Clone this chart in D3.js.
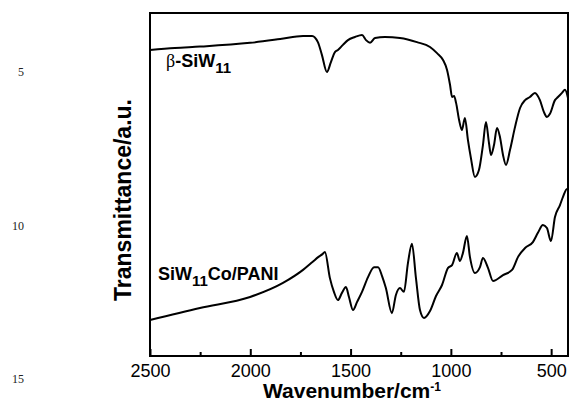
<!DOCTYPE html>
<html>
<head>
<meta charset="utf-8">
<script src="https://cdn.jsdelivr.net/npm/d3@7"></script>
<style>
  body { margin: 0; background: #fff; }
  svg { display: block; }
</style>
</head>
<body>
<div id="chart-area"></div>
<script>
// DATA (wavenumber in cm-1, transmittance in a.u.)
const majorTicks = [2500, 2000, 1500, 1000, 500]
const minorTicks = [2250, 1750, 1250, 750]

const siw11Wave = [2500, 2376, 2251, 2001, 1851, 1737, 1692, 1663, 1643, 1618, 1598, 1578, 1563, 1538, 1513,
  1478, 1443, 1423, 1403, 1378, 1329, 1254, 1169, 1104, 1069, 1039, 1019, 1004, 994, 984, 974, 959, 945,
  930, 915, 900, 880, 860, 840, 825, 810, 800, 785, 770, 755, 740, 725, 705, 680, 655, 630, 606, 581,
  556, 536, 521, 506, 481, 466, 446, 431, 416]
const siw11T = [89.2, 89.8, 90.2, 91.3, 92.4, 93.3, 93.3, 91.5, 87.8, 82.8, 85.7, 88.6, 89.2, 90.7, 92.1,
  93.0, 93.6, 92.1, 91.3, 92.7, 93.0, 92.7, 91.5, 90.1, 88.3, 86.3, 83.4, 79.0, 75.5, 75.8, 73.8, 68.8, 65.9,
  69.4, 63.0, 57.7, 52.2, 54.2, 61.5, 68.2, 62.1, 58.6, 61.5, 66.5, 63.8, 58.6, 55.7, 60.1, 66.8, 72.3, 74.6, 75.5, 76.7,
  74.6, 71.1, 69.7, 70.6, 74.6, 75.5, 76.7, 77.6, 75.2]

const paniWave = [2500, 2251, 2001, 1837, 1737, 1690, 1660, 1640, 1628, 1603, 1583, 1563, 1543, 1523, 1508,
  1488, 1468, 1443, 1413, 1383, 1363, 1343, 1324, 1294, 1274, 1254, 1234, 1214, 1194, 1174, 1154, 1134,
  1104, 1074, 1044, 1014, 994, 970, 955, 940, 920, 905, 880, 855, 840, 815, 790, 740, 695, 665, 630,
  591, 566, 541, 521, 501, 481, 456, 441, 421, 416]
const paniT = [10.5, 14.0, 17.2, 21.3, 25.1, 27.4, 28.9, 29.7, 30.3, 22.7, 18.7, 16.3, 18.4, 20.1, 17.2,
  13.4, 15.7, 18.7, 23.0, 25.9, 25.9, 23.3, 19.8, 12.5, 17.8, 19.8, 18.7, 27.1, 32.7, 22.7, 13.4, 11.1,
  13.1, 17.5, 20.7, 25.7, 26.5, 30.0, 27.7, 30.0, 35.0, 28.9, 24.2, 25.9, 28.6, 25.7, 21.9, 23.6, 25.1, 28.9, 31.5,
  33.2, 35.9, 38.2, 37.3, 33.5, 40.5, 44.0, 46.4, 48.7, 48.7]

// CHART AREA
const W = 573, H = 404
const plot = { left: 150, right: 568, top: 13, bottom: 356 }

const svg = d3.select("#chart-area")
  .append("svg")
    .attr("width", W)
    .attr("height", H)
    .style("font-family", "Arial, 'Liberation Sans', sans-serif")

const xScale = d3.scaleLinear()
  .domain([2500, 416])
  .range([plot.left, plot.right])

const yScale = d3.scaleLinear()
  .domain([0, 100])
  .range([plot.bottom, plot.top])

// page line numbers
svg.selectAll(".lineno")
  .data([["5", 76], ["10", 230], ["15", 383]])
  .enter().append("text")
    .attr("x", 24)
    .attr("y", d => d[1])
    .attr("text-anchor", "end")
    .attr("font-family", "'Liberation Serif', 'Times New Roman', serif")
    .attr("font-size", "12px")
    .attr("fill", "#222")
    .text(d => d[0])

// curves
const line = d3.line()
  .x(d => xScale(d[0]))
  .y(d => yScale(d[1]))
  .curve(d3.curveMonotoneX)

const series = [d3.zip(siw11Wave, siw11T), d3.zip(paniWave, paniT)]
svg.selectAll(".trace")
  .data(series)
  .enter().append("path")
    .attr("class", "trace")
    .attr("d", line)
    .attr("fill", "none")
    .attr("stroke", "#000")
    .attr("stroke-width", 2)
    .attr("stroke-linejoin", "round")

// axes (ticks inward)
const xMajor = d3.axisBottom(xScale)
  .tickValues(majorTicks)
  .tickSizeInner(-7)
  .tickSizeOuter(0)
  .tickPadding(8)
  .tickFormat(d3.format("d"))
const gx = svg.append("g")
  .attr("transform", "translate(0," + plot.bottom + ")")
  .call(xMajor)
gx.select(".domain").remove()
gx.selectAll("line").attr("stroke-width", 2)
gx.selectAll("text").attr("font-size", "18px").attr("fill", "#000")
  .attr("font-family", "Arial, 'Liberation Sans', sans-serif")

const xMinor = d3.axisBottom(xScale)
  .tickValues(minorTicks)
  .tickSizeInner(-4)
  .tickSizeOuter(0)
  .tickFormat("")
const gm = svg.append("g")
  .attr("transform", "translate(0," + plot.bottom + ")")
  .call(xMinor)
gm.select(".domain").remove()
gm.selectAll("line").attr("stroke-width", 2)

// frame
svg.append("rect")
  .attr("x", plot.left)
  .attr("y", plot.top)
  .attr("width", plot.right - plot.left)
  .attr("height", plot.bottom - plot.top)
  .attr("fill", "none")
  .attr("stroke", "#000")
  .attr("stroke-width", 2)

// series labels
const lab1 = svg.append("text")
  .attr("x", 166)
  .attr("y", 67)
  .attr("font-size", "18px")
  .attr("font-weight", "bold")
lab1.append("tspan").attr("font-weight", "normal")
  .attr("font-family", "'Liberation Serif', serif").text("β")
lab1.append("tspan").text("-SiW")
lab1.append("tspan").attr("dy", 6).attr("font-size", "15px").text("11")

const lab2 = svg.append("text")
  .attr("x", 158)
  .attr("y", 280)
  .attr("font-size", "18px")
  .attr("font-weight", "bold")
lab2.append("tspan").text("SiW")
lab2.append("tspan").attr("dy", 6).attr("font-size", "15px").text("11")
lab2.append("tspan").attr("dy", -6).text("Co/PANI")

// axis labels
const xl = svg.append("text")
  .attr("x", 352)
  .attr("y", 398)
  .attr("text-anchor", "middle")
  .attr("font-size", "21px")
  .attr("font-weight", "bold")
xl.append("tspan").text("Wavenumber/cm")
xl.append("tspan").attr("dy", -7).attr("font-size", "12px").text("-1")

svg.append("text")
  .attr("transform", "translate(131,200) rotate(-90)")
  .attr("text-anchor", "middle")
  .attr("font-size", "23px")
  .attr("font-weight", "bold")
  .text("Transmittance/a.u.")
</script>
</body>
</html>
